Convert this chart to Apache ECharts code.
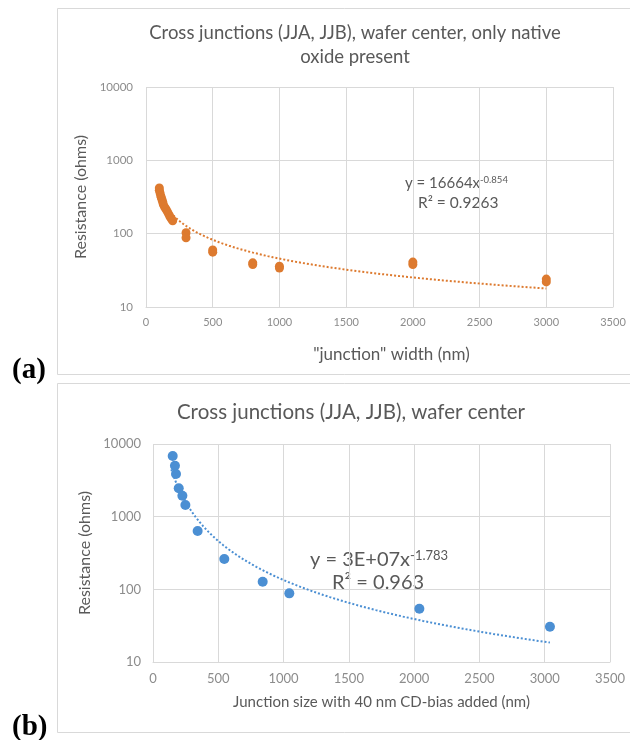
<!DOCTYPE html>
<html><head><meta charset="utf-8">
<script src="https://cdn.jsdelivr.net/npm/echarts@6/dist/echarts.min.js"></script>
<style>html,body{margin:0;padding:0;background:#fff}#c{width:630px;height:740px}</style>
</head><body><div id="c"></div>
<script>
// ---- Panel (a): native oxide only ----
const xA = [100,100,105,110,115,120,125,130,140,150,160,170,180,190,200, 300,300, 500,500, 800,800, 1000,1000, 2000,2000, 3000,3000];
const yA = [420,390,360,330,310,290,270,250,230,215,200,185,170,160,150, 103,88, 60,56, 40,38, 36,34, 41,38, 24,22];
const trendCoefA = 16664, trendExpA = -0.854, trendRangeA = [100, 3000];
// ---- Panel (b): with 40 nm CD-bias ----
const xB = [151,168,176,197,225,248,342,546,840,1044,2040,3040];
const yB = [6840,5020,3860,2455,1940,1445,636,261,127,88,54,30.6];
const trendCoefB = 3e7, trendExpB = -1.783, trendRangeB = [140, 3040];
// ---- axes ----
const xTicks = [0,500,1000,1500,2000,2500,3000,3500];
const yTicks = [10,100,1000,10000];

const FONT = 'Lato';
const GRID = '#D9D9D9', LBL = '#8C8C8C', TXT = '#595959';
const ORANGE = '#DD7A2F', BLUE = '#4B8FD3';

function curve(c, e, r) {
  const pts = [], n = 80;
  for (let i = 0; i <= n; i++) {
    const x = r[0] * Math.pow(r[1] / r[0], i / n);
    pts.push([x, c * Math.pow(x, e)]);
  }
  return pts;
}
const pairs = (xs, ys) => xs.map((x, i) => [x, ys[i]]);

function xAxisCfg(gi, name, fs, gap, nfs, pad) {
  return {gridIndex: gi, type: 'value', min: xTicks[0], max: xTicks[xTicks.length-1], interval: xTicks[1]-xTicks[0],
    axisLine: {show: true, lineStyle: {color: GRID}}, axisTick: {show: false},
    axisLabel: {color: LBL, fontSize: fs, fontFamily: FONT, margin: 10, formatter: v => String(v)},
    splitLine: {show: true, lineStyle: {color: GRID, width: 1}},
    name: name, nameLocation: 'middle', nameGap: gap,
    nameTextStyle: {color: TXT, fontSize: nfs, fontFamily: FONT, padding: pad}};
}
function yAxisCfg(gi, fs, gap, nfs, margin) {
  return {gridIndex: gi, type: 'log', logBase: 10, min: yTicks[0], max: yTicks[yTicks.length-1],
    axisLine: {show: false}, axisTick: {show: false},
    axisLabel: {color: LBL, fontSize: fs, fontFamily: FONT, margin: margin, formatter: v => String(Math.round(v))},
    splitLine: {show: true, lineStyle: {color: GRID, width: 1}}, minorSplitLine: {show: false},
    name: 'Resistance (ohms)', nameLocation: 'middle', nameGap: gap, nameRotate: 90,
    nameTextStyle: {color: TXT, fontSize: nfs, fontFamily: FONT}};
}

const chart = echarts.init(document.getElementById('c'), null, {renderer: 'canvas'});
chart.setOption({
  animation: false,
  backgroundColor: '#fff',
  grid: [
    {left: 146, right: 17, top: 87, height: 220},
    {left: 153, right: 20, top: 444, height: 218}
  ],
  xAxis: [
    xAxisCfg(0, '"junction" width (nm)', 11, 39, 17, [0, 0, 0, 24]),
    xAxisCfg(1, 'Junction size with 40 nm CD-bias added (nm)', 13, 33, 15, 0)
  ],
  yAxis: [
    yAxisCfg(0, 11.5, 47, 16, 13),
    yAxisCfg(1, 13, 50, 16, 12)
  ],
  series: [
    {type: 'line', xAxisIndex: 0, yAxisIndex: 0, data: curve(trendCoefA, trendExpA, trendRangeA), showSymbol: false, z: 1,
      lineStyle: {color: ORANGE, width: 2, type: [2, 2]}, silent: true},
    {type: 'scatter', xAxisIndex: 0, yAxisIndex: 0, data: pairs(xA, yA), symbolSize: 9, z: 2,
      itemStyle: {color: ORANGE, opacity: 1}},
    {type: 'line', xAxisIndex: 1, yAxisIndex: 1, data: curve(trendCoefB, trendExpB, trendRangeB), showSymbol: false, z: 1,
      lineStyle: {color: BLUE, width: 2, type: [2, 2]}, silent: true},
    {type: 'scatter', xAxisIndex: 1, yAxisIndex: 1, data: pairs(xB, yB), symbolSize: 10, z: 2,
      itemStyle: {color: BLUE, opacity: 1}}
  ],
  graphic: [
    {type: 'rect', z: -10, shape: {x: 57.5, y: 8.5, width: 620, height: 366}, style: {fill: 'none', stroke: GRID, lineWidth: 1}},
    {type: 'rect', z: -10, shape: {x: 57.5, y: 383.5, width: 620, height: 349}, style: {fill: 'none', stroke: GRID, lineWidth: 1}},
    {type: 'text', x: 355, y: 33, style: {text: 'Cross junctions (JJA, JJB), wafer center, only native', fill: TXT, fontSize: 18.5, fontFamily: FONT, align: 'center', verticalAlign: 'middle'}},
    {type: 'text', x: 355, y: 57, style: {text: 'oxide present', fill: TXT, fontSize: 18.5, fontFamily: FONT, align: 'center', verticalAlign: 'middle'}},
    {type: 'text', x: 351, y: 412, style: {text: 'Cross junctions (JJA, JJB), wafer center', fill: TXT, fontSize: 20.5, fontFamily: FONT, align: 'center', verticalAlign: 'middle'}},
    {type: 'text', x: 12, y: 371, style: {text: '(a)', fill: '#000', fontSize: 29, fontWeight: 'bold', fontFamily: 'Liberation Serif', align: 'left', verticalAlign: 'middle'}},
    {type: 'text', x: 12, y: 728, style: {text: '(b)', fill: '#000', fontSize: 29, fontWeight: 'bold', fontFamily: 'Liberation Serif', align: 'left', verticalAlign: 'middle'}},
    {type: 'text', x: 405, y: 183, style: {text: '{m|y = 16664x}{s|-0.854}', align: 'left', verticalAlign: 'middle',
      rich: {m: {fill: TXT, fontSize: 15, fontFamily: FONT, lineHeight: 17}, s: {fill: TXT, fontSize: 9.5, fontFamily: FONT, verticalAlign: 'top', lineHeight: 10}}}},
    {type: 'text', x: 418, y: 203, style: {text: 'R² = 0.9263', fill: TXT, fontSize: 15.5, fontFamily: FONT, align: 'left', verticalAlign: 'middle'}},
    {type: 'text', x: 310, y: 560, style: {text: '{m|y = 3E+07x}{s|-1.783}', align: 'left', verticalAlign: 'middle',
      rich: {m: {fill: TXT, fontSize: 20, fontFamily: FONT, lineHeight: 22}, s: {fill: TXT, fontSize: 13, fontFamily: FONT, verticalAlign: 'top', lineHeight: 13}}}},
    {type: 'text', x: 332, y: 583, style: {text: 'R² = 0.963', fill: TXT, fontSize: 20, fontFamily: FONT, align: 'left', verticalAlign: 'middle'}}
  ]
});
</script>
</body></html>
